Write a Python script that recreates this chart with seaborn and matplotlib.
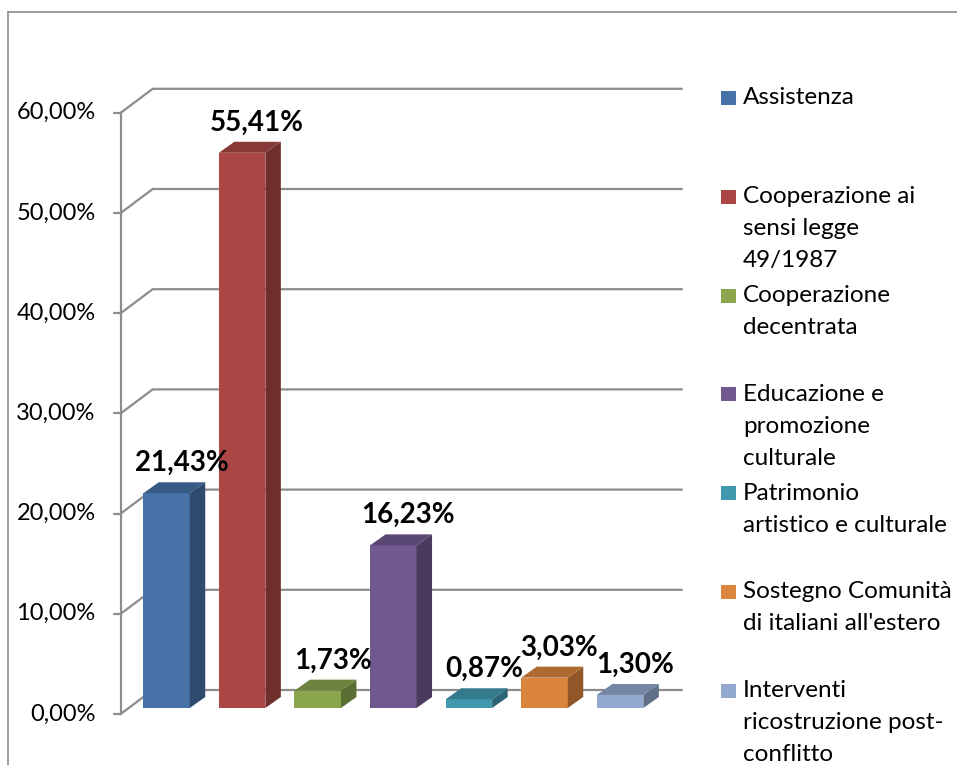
#%%
import seaborn as sns
import matplotlib.pyplot as plt
from matplotlib.patches import Polygon, Rectangle
from matplotlib.lines import Line2D
import matplotlib.colors as mcolors

#%% dati
categorie = ['Assistenza', 'Cooperazione ai sensi legge 49/1987', 'Cooperazione decentrata',
             'Educazione e promozione culturale', 'Patrimonio artistico e culturale',
             "Sostegno Comunità di italiani all'estero", 'Interventi ricostruzione post-conflitto']
legenda = [['Assistenza'],
           ['Cooperazione ai', 'sensi legge', '49/1987'],
           ['Cooperazione', 'decentrata'],
           ['Educazione e', 'promozione', 'culturale'],
           ['Patrimonio', 'artistico e culturale'],
           ['Sostegno Comunità', "di italiani all'estero"],
           ['Interventi', 'ricostruzione post-', 'conflitto']]
valori = [21.43, 55.41, 1.73, 16.23, 0.87, 3.03, 1.30]
tick_y = [0, 10, 20, 30, 40, 50, 60]
colori = ['#4672A8', '#AA4643', '#89A54E', '#71588F', '#4198AF', '#DB843D', '#93A9CF']

#%% stile
sns.set_style('white')
plt.rcParams['font.family'] = ['Lato', 'DejaVu Sans']
plt.rcParams['text.color'] = 'black'

W, H = 957, 765
PX, PY = 75.6, 10.02          # pixel per categoria / per punto percentuale
LARG = 0.615                   # larghezza barra
FX, FY = -8 / PX, -6 / PY      # piano frontale rispetto alle barre
BX, BY = 24 / PX, 18 / PY      # parete di fondo
DX, DY = 15.5 / PX, 11 / PY    # profondità barra
GRIGIO = '#8c8c8c'


def scuro(c, f):
    r, g, b = mcolors.to_rgb(c)
    return (r * f, g * f, b * f)


fig = plt.figure(figsize=(W / 100, H / 100), dpi=100)
ax = fig.add_axes([0, 0, 1, 1])

#%% griglia 3D
x0, x1 = -0.5, len(valori) - 0.5
for t in tick_y:
    ax.plot([x0 + FX, x0 + BX, x1 + BX], [t + FY, t + BY, t + BY], color=GRIGIO, lw=1.6, zorder=1)
    ax.plot([x0 + FX - 7 / PX, x0 + FX], [t + FY, t + FY], color=GRIGIO, lw=1.6, zorder=1)
    ax.text(x0 + FX - 25 / PX, t + FY, f'{t:.2f}'.replace('.', ',') + '%',
            ha='right', va='center', fontsize=17)
ax.plot([x0 + FX, x0 + FX], [FY, tick_y[-1] + FY], color=GRIGIO, lw=1.6, zorder=1)

#%% barre
sns.barplot(x=categorie, y=valori, hue=categorie, palette=colori, saturation=1,
            width=LARG, legend=False, ax=ax, zorder=3, edgecolor='none')

for i, (v, c) in enumerate(zip(valori, colori)):
    xl, xr = i - LARG / 2, i + LARG / 2
    ax.add_patch(Polygon([(xr, 0), (xr + DX, DY), (xr + DX, v + DY), (xr, v)],
                         closed=True, facecolor=scuro(c, 0.66), edgecolor='none', zorder=3))
    ax.add_patch(Polygon([(xl, v), (xr, v), (xr + DX, v + DY), (xl + DX, v + DY)],
                         closed=True, facecolor=scuro(c, 0.8), edgecolor='none', zorder=3))
    ax.text(i + 15 / PX, v + 3.0, f'{v:.2f}'.replace('.', ',') + '%',
            ha='center', va='center', fontsize=20, fontweight='bold', zorder=5)

ax.set_xlim(-166.5 / PX, (W - 166.5) / PX)
ax.set_ylim(-(H - 708) / PY, 708 / PY)
ax.axis('off')

#%% legenda
for k, (righe, c) in enumerate(zip(legenda, colori)):
    yc = 98 + 98.8 * k
    fig.add_artist(Rectangle((721 / W, 1 - (yc + 7) / H), 15 / W, 14 / H,
                             transform=fig.transFigure, facecolor=c, edgecolor='none'))
    for j, r in enumerate(righe):
        fig.text(743 / W, 1 - (yc + 32 * j) / H, r, ha='left', va='center', fontsize=17.5)

#%% bordo
fig.add_artist(Line2D([8 / W, 1], [1 - 12 / H] * 2, transform=fig.transFigure, color=GRIGIO, lw=1.2))
fig.add_artist(Line2D([8 / W, 8 / W], [0, 1 - 12 / H], transform=fig.transFigure, color=GRIGIO, lw=1.2))

plt.savefig('out.png', dpi=100)
